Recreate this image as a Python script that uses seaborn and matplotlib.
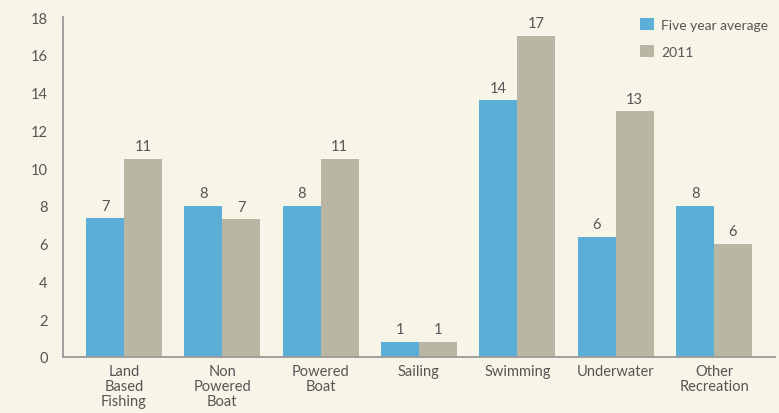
import matplotlib
matplotlib.use("Agg")
import matplotlib.pyplot as plt
import seaborn as sns
import pandas as pd
from matplotlib.patches import Patch
from matplotlib.ticker import FixedLocator, NullFormatter

categories = ["Land\nBased\nFishing", "Non\nPowered\nBoat", "Powered\nBoat", "Sailing",
              "Swimming", "Underwater", "Other\nRecreation"]
five_year_avg = [7.35, 8.0, 8.0, 0.8, 13.6, 6.35, 8.0]
year_2011 = [10.5, 7.3, 10.5, 0.8, 17.0, 13.0, 6.0]
five_year_labels = ["7", "8", "8", "1", "14", "6", "8"]
year_2011_labels = ["11", "7", "11", "1", "17", "13", "6"]
series_names = ["Five year average", "2011"]
y_ticks = [0, 2, 4, 6, 8, 10, 12, 14, 16, 18]

df = pd.DataFrame({
    "category": categories * 2,
    "value": five_year_avg + year_2011,
    "series": [series_names[0]] * len(categories) + [series_names[1]] * len(categories),
})

sns.set_style("white")
plt.rcParams["font.family"] = ["Lato", "DejaVu Sans"]

bg = "#F7F4E8"
blue = "#5BAED5"
grey = "#B9B7A4"
axis_col = "#9A9A9A"
text_col = "#555555"
fs = 10.5

fig = plt.figure(figsize=(7.79, 4.14), dpi=100, facecolor=bg)
ax = fig.add_axes([63 / 779, 1 - 358 / 414, (775 - 63) / 779, (358 - 18) / 414])
ax.set_facecolor(bg)

sns.barplot(data=df, x="category", y="value", hue="series", order=categories,
            hue_order=series_names, palette=[blue, grey], width=0.77,
            saturation=1, ax=ax, legend=False)

for cont, labs in zip(ax.containers, [five_year_labels, year_2011_labels]):
    for p in cont.patches:
        p.set_edgecolor("none")
    ax.bar_label(cont, labels=labs, padding=4, fontsize=fs, color=text_col)

ax.set_xlim(-0.62, 6.62)
ax.set_ylim(0, 18)
ax.set_yticks(y_ticks)
ax.set_xlabel("")
ax.set_ylabel("")
for s in ["top", "right"]:
    ax.spines[s].set_visible(False)
for s in ["left", "bottom"]:
    ax.spines[s].set_color(axis_col)
    ax.spines[s].set_linewidth(1.3)

ax.xaxis.set_minor_locator(FixedLocator([0.5, 1.5, 2.5, 3.5, 4.5, 5.5]))
ax.xaxis.set_minor_formatter(NullFormatter())
ax.tick_params(axis="x", which="major", length=0, pad=5, labelsize=fs, labelcolor=text_col)
ax.tick_params(axis="x", which="minor", length=5, width=1.3, color=axis_col, direction="out")
ax.tick_params(axis="y", length=6, width=1.3, color=axis_col, labelsize=fs,
               labelcolor=text_col, pad=5)
for t in ax.get_xticklabels():
    t.set_linespacing(1.1)

handles = [Patch(facecolor=blue, edgecolor="none"), Patch(facecolor=grey, edgecolor="none")]
fig.legend(handles, series_names, loc="upper left", bbox_to_anchor=(627 / 779, 1 - 6 / 414),
           frameon=False, fontsize=10, handlelength=1.05, handleheight=1.05,
           handletextpad=0.5, labelspacing=1.0, labelcolor=text_col)

fig.savefig("out.png", dpi=100, facecolor=bg)
